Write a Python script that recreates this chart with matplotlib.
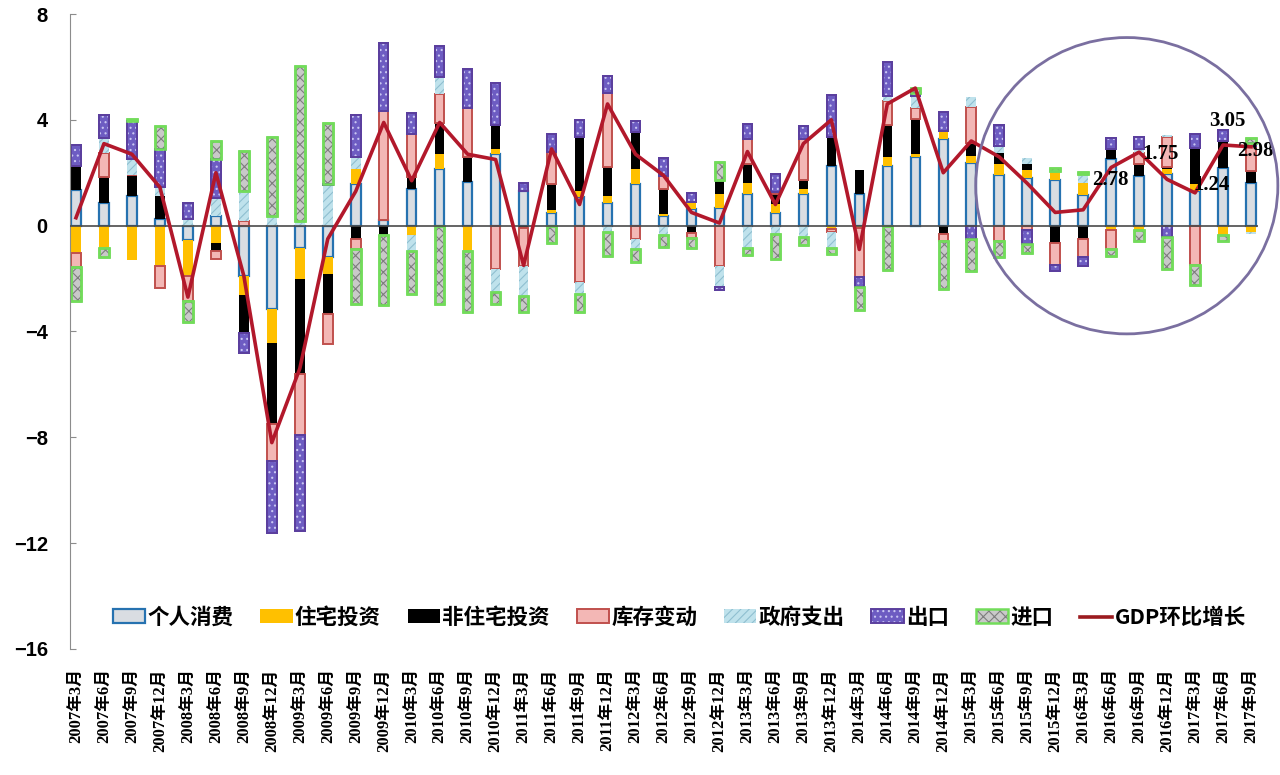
import matplotlib
matplotlib.use("Agg")
import matplotlib.pyplot as plt
from matplotlib.patches import Patch, Ellipse
from matplotlib.lines import Line2D
import numpy as np

plt.rcParams['font.family'] = ['Liberation Sans', 'Noto Sans CJK SC']
plt.rcParams['hatch.linewidth'] = 0.8

# quarters 2007Q1 .. 2017Q3
quarters = [
    '2007年3月', '2007年6月', '2007年9月', '2007年12月',
    '2008年3月', '2008年6月', '2008年9月', '2008年12月',
    '2009年3月', '2009年6月', '2009年9月', '2009年12月',
    '2010年3月', '2010年6月', '2010年9月', '2010年12月',
    '2011年3月', '2011年6月', '2011年9月', '2011年12月',
    '2012年3月', '2012年6月', '2012年9月', '2012年12月',
    '2013年3月', '2013年6月', '2013年9月', '2013年12月',
    '2014年3月', '2014年6月', '2014年9月', '2014年12月',
    '2015年3月', '2015年6月', '2015年9月', '2015年12月',
    '2016年3月', '2016年6月', '2016年9月', '2016年12月',
    '2017年3月', '2017年6月', '2017年9月',
]

# contributions to GDP growth (percentage points)
pce = [1.35, 0.85, 1.12, 0.25,
       -0.54, 0.38, -1.91, -3.15,
       -0.86, -1.17, 1.56, 0.20,
       1.39, 2.13, 1.66, 2.70,
       1.32, 0.49, 1.08, 0.85,
       1.56, 0.38, 0.62, 0.67,
       1.19, 0.49, 1.19, 2.24,
       1.19, 2.24, 2.60, 3.27,
       2.37, 1.93, 1.79, 1.73,
       1.15, 2.53, 1.89, 1.97,
       1.32, 2.19, 1.63]
residential = [-1.04, -0.84, -1.30, -1.54,
               -1.37, -0.67, -0.70, -1.29,
               -1.16, -0.67, 0.57, 0.00,
               -0.36, 0.57, -0.97, 0.18,
               0.00, 0.09, 0.24, 0.27,
               0.59, 0.07, 0.27, 0.54,
               0.43, 0.32, 0.20, -0.13,
               -0.10, 0.36, 0.10, 0.31,
               0.27, 0.40, 0.31, 0.34,
               0.46, -0.16, -0.16, 0.19,
               0.27, -0.35, -0.23]
nonresidential = [0.89, 1.00, 0.78, 0.88,
                  0.00, -0.30, -1.46, -3.06,
                  -3.60, -1.48, -0.50, -0.36,
                  0.44, 1.19, 0.94, 0.94,
                  -0.10, 0.98, 2.02, 1.08,
                  1.39, 0.94, -0.27, 0.51,
                  0.71, 0.38, 0.34, 1.13,
                  0.92, 1.21, 1.32, -0.30,
                  0.50, 0.40, 0.23, -0.67,
                  -0.50, 0.38, 0.45, 0.05,
                  1.36, 1.02, 0.45]
inventory = [-0.54, 0.88, 0.00, -0.81,
             -0.94, -0.30, 0.17, -1.41,
             -2.29, -1.17, -0.40, 4.14,
             1.64, 1.10, 1.85, -1.62,
             -1.41, 1.21, -2.12, 2.83,
             -0.50, 0.47, -0.19, -1.54,
             0.94, 0.10, 1.55, -0.10,
             -1.85, 0.90, 0.43, -0.27,
             1.35, -0.59, -0.16, -0.81,
             -0.67, -0.74, 0.42, 1.13,
             -1.50, 0.00, 0.94]
government = [0.00, 0.60, 0.63, 0.34,
              0.27, 0.67, 1.15, 0.38,
              0.17, 1.52, 0.47, 0.00,
              -0.61, 0.62, 0.00, -0.90,
              -1.15, 0.00, -0.47, -0.23,
              -0.40, -0.36, 0.00, -0.78,
              -0.84, -0.30, -0.43, -0.61,
              0.00, 0.18, 0.45, 0.00,
              0.36, 0.27, 0.23, 0.00,
              0.36, 0.00, 0.15, 0.10,
              0.00, 0.00, -0.10]
exports = [0.80, 0.84, 1.41, 1.42,
           0.58, 1.48, -0.74, -2.72,
           -3.64, 0.07, 1.58, 2.56,
           0.78, 1.17, 1.48, 1.58,
           0.30, 0.70, 0.67, 0.61,
           0.43, 0.70, 0.36, -0.10,
           0.58, 0.65, 0.47, 1.56,
           -0.36, 1.31, 0.10, 0.73,
           -0.50, 0.81, -0.54, -0.23,
           -0.36, 0.42, 0.45, -0.43,
           0.53, 0.42, 0.12]
imports = [-1.25, -0.34, 0.10, 0.88,
           -0.78, 0.67, 1.50, 2.99,
           5.86, 2.29, -2.06, -2.65,
           -1.62, -2.96, -2.29, -0.44,
           -0.61, -0.67, -0.67, -0.90,
           -0.47, -0.44, -0.38, 0.70,
           -0.27, -0.97, -0.30, -0.24,
           -0.89, -1.67, 0.20, -1.82,
           -1.21, -0.58, -0.34, 0.10,
           0.05, -0.23, -0.43, -1.20,
           -0.75, -0.24, 0.19]
gdp = [0.3, 3.1, 2.7, 1.45,
       -2.7, 2.0, -1.9, -8.2,
       -5.4, -0.5, 1.3, 3.9,
       1.7, 3.9, 2.7, 2.5,
       -1.5, 2.9, 0.8, 4.6,
       2.7, 1.9, 0.5, 0.1,
       2.8, 0.8, 3.1, 4.0,
       -0.9, 4.6, 5.2, 2.0,
       3.2, 2.6, 1.6, 0.5,
       0.6, 2.2, 2.78, 1.75,
       1.24, 3.05, 2.98]

series_names = ['个人消费', '住宅投资', '非住宅投资', '库存变动', '政府支出', '出口', '进口']
series_vals = [pce, residential, nonresidential, inventory, government, exports, imports]

# labelled points (last five quarters of the line)
label_idx = [38, 39, 40, 41, 42]
label_text = ['2.78', '1.75', '1.24', '3.05', '2.98']
label_offset = [(-21, -20), (-5, 18), (12, 6), (3, 17), (3, -3)]

# face, edge, edge width, hatch, hatch colour
styles = [
    ('#d9dde2', '#2672b0', 1.6, None, None),
    ('#ffc000', '#ffc000', 0.0, None, None),
    ('#000000', '#000000', 0.0, None, None),
    ('#f3b7b5', '#c0504d', 1.4, None, None),
    ('#bfe2ec', '#bfe2ec', 0.0, '////', '#8fbfd0'),
    ('#6d5cc2', '#5b3f9e', 1.4, '...', '#c9c6f2'),
    ('#c9c9c9', '#72dc5a', 1.8, 'xxx', '#7d7d7d'),
]

fig = plt.figure(figsize=(12.8, 7.75), dpi=100)
ax = fig.add_axes([70 / 1280, 1 - 649 / 775, (1258 - 70) / 1280, (649 - 14) / 775])

x = np.arange(len(quarters))
w = 0.34
pos_base = np.zeros(len(x))
neg_base = np.zeros(len(x))
handles = []
for name, vals, (fc, ec, lw, hatch, hc) in zip(series_names, series_vals, styles):
    v = np.array(vals)
    bottom = np.where(v >= 0, pos_base, neg_base)
    ax.bar(x, v, w, bottom=bottom, facecolor=fc, edgecolor=ec, linewidth=lw, zorder=2)
    if hatch:
        ax.bar(x, v, w, bottom=bottom, facecolor='none', edgecolor=hc, linewidth=0,
               hatch=hatch, zorder=2.1)
        if lw > 0:
            ax.bar(x, v, w, bottom=bottom, facecolor='none', edgecolor=ec, linewidth=lw, zorder=2.2)
        h = (Patch(facecolor=fc, edgecolor=hc, hatch=hatch, linewidth=0),
             Patch(facecolor='none', edgecolor=ec, linewidth=lw))
    else:
        h = Patch(facecolor=fc, edgecolor=ec, linewidth=lw)
    handles.append(h)
    pos_base = pos_base + np.where(v > 0, v, 0)
    neg_base = neg_base + np.where(v < 0, v, 0)

ax.axhline(0, color='#4a4a4a', lw=1.2, zorder=3)
ax.plot(x, gdp, color='#b2182b', lw=2.6, zorder=4)
handles.append(Line2D([], [], color='#9b1b1f', lw=2.6))

for i, t, off in zip(label_idx, label_text, label_offset):
    ax.annotate(t, (x[i], gdp[i]), xytext=off, textcoords='offset points',
                ha='center', va='center', fontsize=15, fontweight='bold',
                family=['Liberation Serif'], zorder=5)

# highlight circle around the recent quarters
ax.add_patch(Ellipse((37.56, 1.51), 10.8, 11.2, fill=False, edgecolor='#7a6fa0',
                     lw=2, clip_on=False, zorder=5))

ax.set_xlim(-0.214, 42.25)
ax.set_ylim(-16, 8)
ax.set_yticks(range(-16, 9, 4))
ax.tick_params(axis='y', direction='in', length=4, pad=16, labelsize=14.5, color='#8c8c8c')
for lbl in ax.get_yticklabels():
    lbl.set_fontweight('bold')
ax.set_xticks(x)
ax.set_xticklabels(quarters, rotation=90, fontsize=12, fontweight='bold',
                   family=['Liberation Serif', 'Noto Sans CJK SC'])
ax.tick_params(axis='x', length=0, pad=14)

for s in ['top', 'right', 'bottom']:
    ax.spines[s].set_visible(False)
ax.spines['left'].set_color('#8c8c8c')

ax.legend(handles, series_names + ['GDP环比增长'], loc='center', bbox_to_anchor=(0.513, 0.05),
          ncol=8, frameon=False, handlelength=1.5, handleheight=0.6, handletextpad=0.1,
          columnspacing=1.25, prop={'family': ['Noto Sans CJK SC'], 'size': 15.5, 'weight': 'bold'})

fig.savefig('out.png', dpi=100, facecolor='white')
